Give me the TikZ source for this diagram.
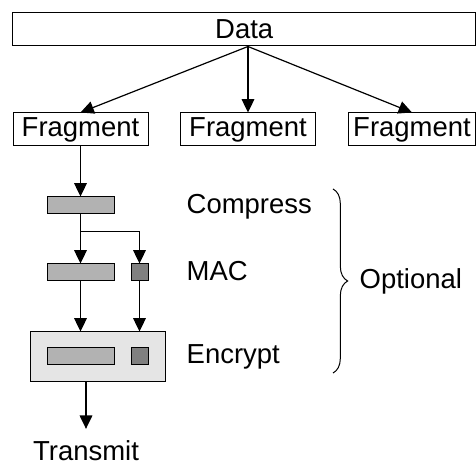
\documentclass[tikz,border=0pt]{standalone}
\usepackage{fontspec}
\setmainfont{Liberation Sans}
\usetikzlibrary{arrows.meta,decorations.pathreplacing}

\begin{document}
\begin{tikzpicture}[x=0.75pt, y=-0.75pt,
	>={Triangle[width=9.5pt,length=10pt]},
	font=\fontsize{20.6}{24}\selectfont,
	box/.style={draw, line width=0.75pt, inner sep=0pt, minimum height=24.75pt},
	bar/.style={draw, line width=0.75pt, fill=gray!60, minimum width=50.25pt, minimum height=12.75pt, inner sep=0pt},
	sq/.style={draw, line width=0.75pt, fill=gray, minimum size=12.75pt, inner sep=0pt},
	flow/.style={->, line width=0.9pt}]
	\useasboundingbox (0,0) rectangle (476,466);

	% data and its fragments
	\node[box, minimum width=346.9pt] (data) at (244.25,29.5) {Data};
	\node[box, minimum width=101.25pt] (f1) at (80.5,129.5) {Fragment};
	\node[box, minimum width=101.25pt] (f2) at (248,129.5) {Fragment};
	\node[box, minimum width=95.25pt] (f3) at (412,129.5) {Fragment};

	\draw[flow] (data.south -| f2.north) -- (f1.north);
	\draw[flow] (data.south -| f2.north) -- (f2.north);
	\draw[flow] (data.south -| f2.north) -- (f3.north);

	% processing steps
	\node[bar] (c1) at (80.5,205.5) {};
	\node[bar] (m1) at (80.5,272.5) {};
	\node[sq] (m2) at (139.5,272.5) {};
	\node[draw, line width=0.75pt, fill=gray!20, minimum width=101.25pt, minimum height=37.5pt] (enc) at (97.5,357) {};
	\node[bar] (e1) at (80.5,356.5) {};
	\node[sq] (e2) at (139.5,356.5) {};

	\draw[flow] (f1.south) -- (c1.north);
	\draw[flow] (c1.south) -- (m1.north);
	\draw[flow] (c1.south) -- ++(0,17) -| (m2.north);
	\draw[flow] (m1.south) -- (m1.south |- enc.north);
	\draw[flow] (m2.south) -- (m2.south |- enc.north);

	\node[anchor=base west] (lc) at (182,214) {Compress};
	\node[anchor=base west] (lm) at (182,281) {MAC};
	\node[anchor=base west] (le) at (182,364) {Encrypt};

	\node[anchor=base, inner sep=1pt] (tr) at (86,461) {Transmit};
	\draw[flow, shorten >=8pt] (enc.south -| tr.north) -- (tr.north);

	% optional part
	\draw[line width=0.75pt, decorate, decoration={brace, amplitude=11pt}] (333,189) -- (333,373);
	\node[anchor=base west] (opt) at (355,289) {Optional};
\end{tikzpicture}
\end{document}
